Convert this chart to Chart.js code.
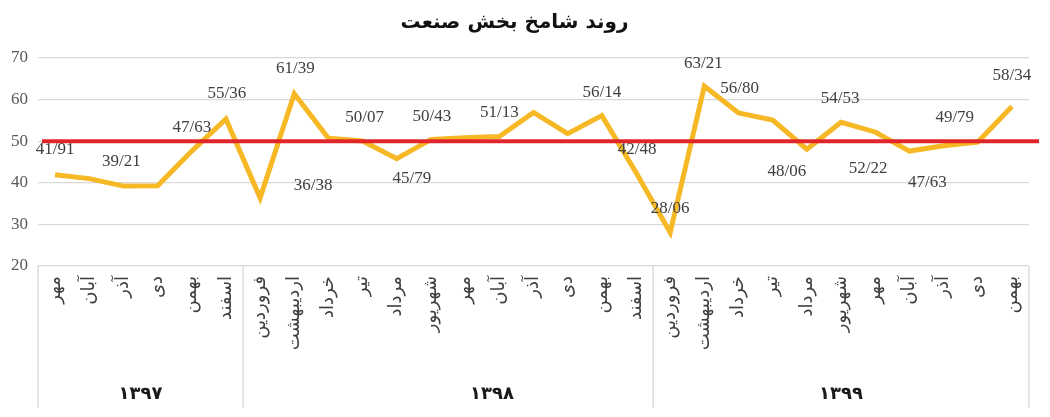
<!DOCTYPE html>
<html>
<head>
<meta charset="utf-8">
<script src="https://cdn.jsdelivr.net/npm/chart.js@4"></script>
<style>
  body { margin: 0; background: #fff; }
  #wrap { width: 1050px; height: 417px; }
</style>
</head>
<body>
<div id="wrap"><canvas id="shamekhChart"></canvas></div>
<script>
// months per year (Persian calendar)
const months1397 = ["مهر", "آبان", "آذر", "دی", "بهمن", "اسفند"];
const months1398 = ["فروردین", "اردیبهشت", "خرداد", "تیر", "مرداد", "شهریور", "مهر", "آبان", "آذر", "دی", "بهمن", "اسفند"];
const months1399 = ["فروردین", "اردیبهشت", "خرداد", "تیر", "مرداد", "شهریور", "مهر", "آبان", "آذر", "دی", "بهمن"];
const yearLabels = ["۱۳۹۷", "۱۳۹۸", "۱۳۹۹"];

// shamekh index, industry sector
const shamekhValues = [
  41.91, 41.0, 39.21, 39.3, 47.63, 55.36,
  36.38, 61.39, 50.7, 50.07, 45.79, 50.43, 50.8, 51.13, 56.9, 51.8, 56.14, 42.48,
  28.06, 63.21, 56.80, 55.1, 48.06, 54.53, 52.22, 47.63, 48.9, 49.79, 58.34
];
const thresholdValue = 50;

const yTicks = [20, 30, 40, 50, 60, 70];

// where each value label sits relative to its point (null = no label)
const labelOffsets = [
  [0, -25], null, [-2, -25], null, [0, -24], [1, -25],
  [53, -12], [1, -25], null, [2, -23], [15, 20], [1, -23], null, [0, -24], null, null, [0, -23], [1, -23],
  [0, -24], [-1, -23], [1, -24], null, [-20, 22], [-1, -24], [-7, 37], [18, 31], null, [-23, -25], [0, -31]
];
const yearLabelShift = [0, 44, 0];

const groups = [months1397, months1398, months1399];
const categories = groups.flat();

const serif = "'Liberation Serif', 'DejaVu Serif', serif";
const sans = "'DejaVu Sans', sans-serif";

const extras = {
  id: "extras",
  afterDatasetsDraw(chart) {
    const { ctx, chartArea, scales } = chart;
    const x = scales.x;
    const y = scales.y;
    const meta = chart.getDatasetMeta(0);

    // value labels
    ctx.save();
    ctx.font = "17px " + serif;
    ctx.fillStyle = "#404040";
    ctx.textAlign = "center";
    ctx.textBaseline = "middle";
    shamekhValues.forEach((v, i) => {
      const off = labelOffsets[i];
      if (!off) return;
      const pt = meta.data[i];
      ctx.fillText(v.toFixed(2).replace(".", "/"), pt.x + off[0], pt.y + off[1]);
    });
    ctx.restore();

    // 50 threshold line
    const yy = y.getPixelForValue(thresholdValue);
    ctx.save();
    ctx.strokeStyle = "#e0262b";
    ctx.lineWidth = 4;
    ctx.beginPath();
    ctx.moveTo(chartArea.left + 4, yy);
    ctx.lineTo(chartArea.right + 10, yy);
    ctx.stroke();
    ctx.restore();

    // category box and year labels
    const half = (x.getPixelForValue(1) - x.getPixelForValue(0)) / 2;
    const top = chartArea.bottom;
    const bottom = x.bottom;
    ctx.save();
    ctx.strokeStyle = "#d9d9d9";
    ctx.lineWidth = 1.3;
    let start = 0;
    const edges = [chartArea.left];
    groups.forEach((g) => {
      start += g.length;
      edges.push(start === categories.length ? chartArea.right : x.getPixelForValue(start - 1) + half);
    });
    edges.forEach((ex) => {
      ctx.beginPath();
      ctx.moveTo(ex, top);
      ctx.lineTo(ex, bottom);
      ctx.stroke();
    });
    ctx.font = "bold 18px " + sans;
    ctx.fillStyle = "#1a1a1a";
    ctx.textAlign = "center";
    ctx.textBaseline = "middle";
    yearLabels.forEach((t, i) => {
      ctx.fillText(t, (edges[i] + edges[i + 1]) / 2 + yearLabelShift[i], bottom - 14);
    });
    ctx.restore();
  }
};

const ctx = document.getElementById("shamekhChart").getContext("2d");
new Chart(ctx, {
  type: "line",
  data: {
    labels: categories,
    datasets: [
      {
        data: shamekhValues,
        borderColor: "#f6b824",
        borderWidth: 5,
        pointRadius: 0,
        tension: 0,
        fill: false
      }
    ]
  },
  options: {
    responsive: true,
    maintainAspectRatio: false,
    animation: false,
    layout: { padding: { left: 0, right: 21, top: 0, bottom: 9 } },
    plugins: {
      legend: { display: false },
      tooltip: { enabled: false },
      title: {
        display: true,
        text: "روند شامخ بخش صنعت",
        color: "#111",
        font: { family: sans, size: 20, weight: "bold" },
        padding: { top: 11, bottom: 23 }
      }
    },
    scales: {
      x: {
        offset: true,
        grid: { display: false, drawTicks: false },
        border: { display: false },
        afterFit(scale) { scale.height = 142; },
        ticks: {
          autoSkip: false,
          minRotation: 90,
          maxRotation: 90,
          padding: 10,
          color: "#404040",
          font: { family: sans, size: 18 }
        }
      },
      y: {
        min: 20,
        max: 70,
        afterFit(scale) { scale.width = 38; },
        afterBuildTicks(scale) { scale.ticks = yTicks.map((v) => ({ value: v })); },
        grid: { color: "#d9d9d9", lineWidth: 1.3, drawTicks: false },
        border: { display: false },
        ticks: {
          padding: 10,
          color: "#595959",
          font: { family: serif, size: 17 }
        }
      }
    }
  },
  plugins: [extras]
});
</script>
</body>
</html>
